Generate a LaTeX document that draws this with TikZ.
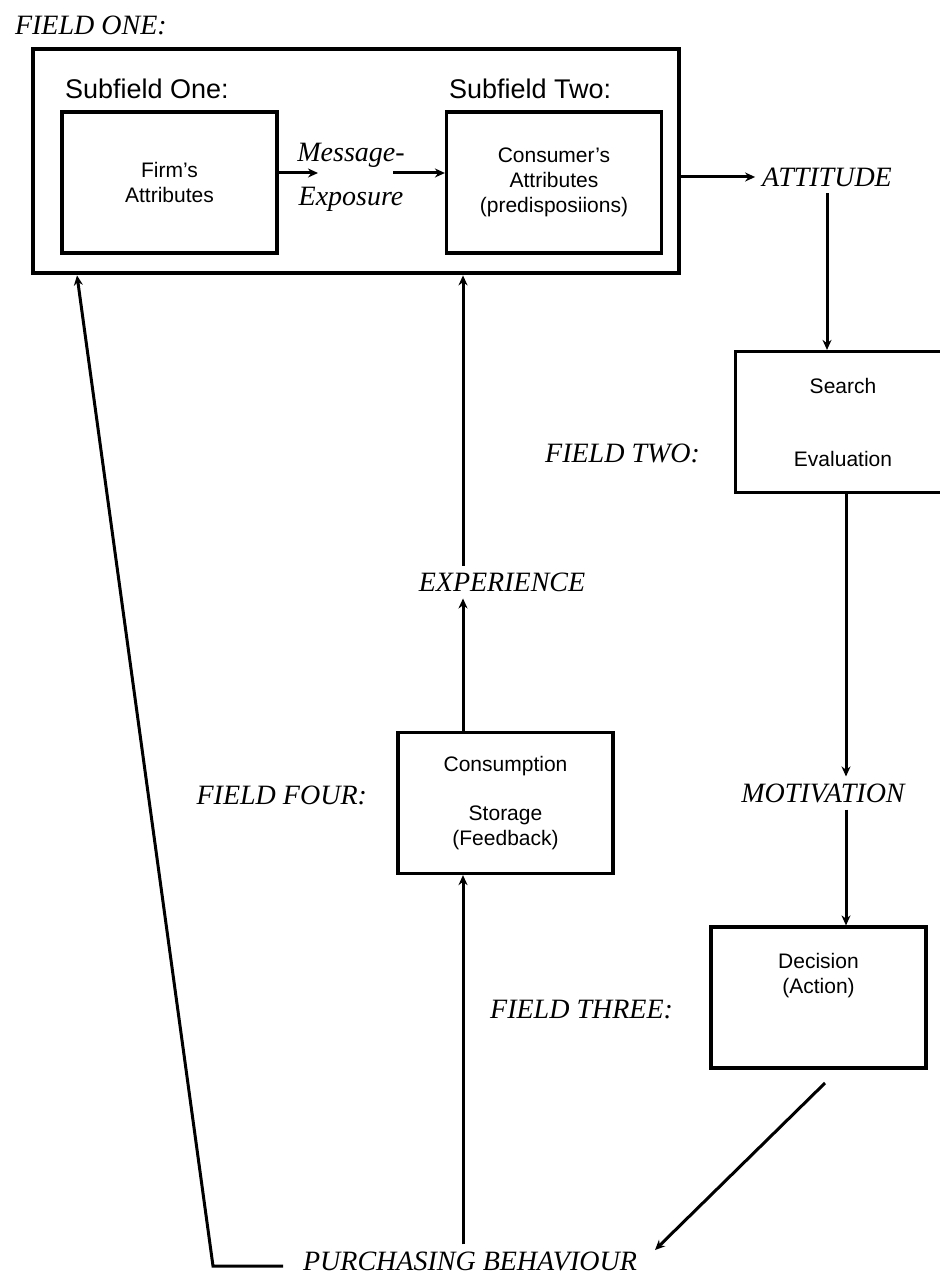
\documentclass[tikz,border=0pt]{standalone}
\usepackage{fontspec}
\setmainfont{Liberation Serif}
\setsansfont{Liberation Sans}
\usetikzlibrary{arrows.meta}

\tikzset{
  fieldbox/.style={draw, line width=1.6pt, align=center, minimum width=107.5pt,
    minimum height=70.5pt, font=\sffamily\fontsize{10.5}{12.5}\selectfont},
  flabel/.style={font=\itshape\fontsize{14}{22}\selectfont, align=center},
  sublabel/.style={anchor=west, font=\sffamily\fontsize{13.5}{16}\selectfont},
  flow/.style={->, line width=1.5pt},
}

\begin{document}
\begin{tikzpicture}[x=0.5pt,y=-0.5pt,>={Stealth[length=5pt,width=4.5pt]}]
\useasboundingbox (0,0) rectangle (940,1278);

% Field one and its two subfields
\node[flabel, anchor=west] (fone) at (8,25) {FIELD ONE:};
\node[draw, line width=2.4pt, minimum width=323pt, minimum height=112pt] (field1) at (356,161) {};
\node[sublabel] (sub1) at (58,89) {Subfield One:};
\node[sublabel] (sub2) at (442,89) {Subfield Two:};
\node[fieldbox] (firm) at (169.5,182.5) {Firm's\\Attributes};
\node[fieldbox] (cons) at (554,182.5) {Consumer's\\Attributes\\(predisposiions)};
\node[flabel] (msg) at (351,177) {Message-\\Exposure};
\coordinate (msgin) at (318,173);
\coordinate (msgout) at (393,173);
\draw[flow] (firm.east |- msgin) -- (msgin);
\draw[flow] (msgout) -- (cons.west |- msgout);

% Field two
\node[flabel] (att) at (827,177) {ATTITUDE};
\node[fieldbox] (search) at (843,422) {Search\\[24pt]Evaluation};
\node[flabel, anchor=east] (ftwo) at (707,453) {FIELD TWO:};
\draw[flow] (field1.east |- att) -- (att);
\draw[flow] (att.south) -- (att.south |- search.north);

% Field three
\coordinate (rcol) at (846,0);
\node[flabel] (mot) at (823,793) {MOTIVATION};
\node[fieldbox] (dec) at (818.5,997.5) {Decision\\(Action)\\[12pt]\mbox{}};
\node[flabel, anchor=east] (fthree) at (680,1010) {FIELD THREE:};
\draw[flow] (search.south -| rcol) -- (mot.north -| rcol);
\draw[flow] (mot.south -| rcol) -- (dec.north -| rcol);

% Purchasing behaviour
\node[flabel] (purch) at (470,1261) {PURCHASING BEHAVIOUR};
\coordinate (dstart) at (825,1083);
\coordinate (dend) at (655,1250);
\draw[flow] (dstart) -- (dend);

% Field four and the feedback loops
\coordinate (mcol) at (463,0);
\coordinate (lcol) at (77,0);
\coordinate (pline) at (283,1266);
\coordinate (pcorner) at (213,1266);
\node[fieldbox] (store) at (505.5,803) {Consumption\\[12pt]Storage\\(Feedback)};
\node[flabel, anchor=east] (ffour) at (374,795) {FIELD FOUR:};
\node[flabel] (exp) at (502,582) {EXPERIENCE};
\draw[flow] (purch.north -| mcol) -- (store.south -| mcol);
\draw[flow] (store.north -| mcol) -- (exp.south -| mcol);
\draw[flow] (exp.north -| mcol) -- (field1.south -| mcol);
\draw[flow] (pline) -- (pcorner) -- (field1.south -| lcol);
\end{tikzpicture}
\end{document}
